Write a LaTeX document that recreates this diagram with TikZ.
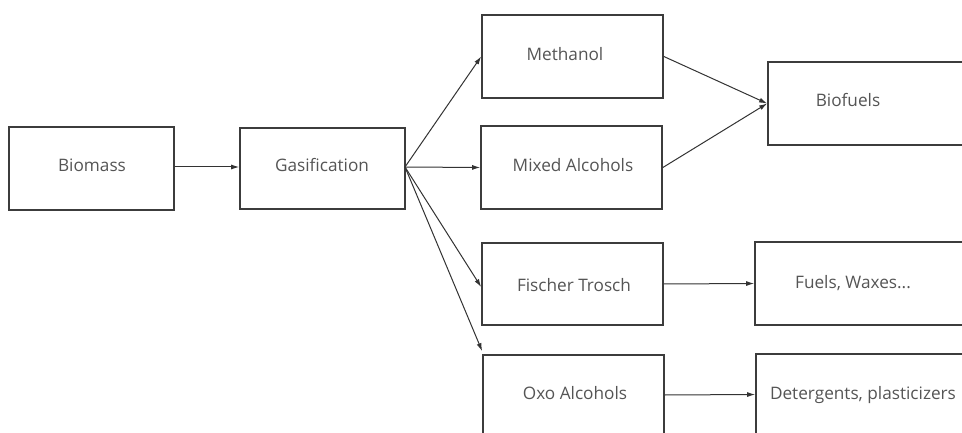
\documentclass[tikz,border=0pt]{standalone}
\usepackage{fontspec}
\setmainfont{Open Sans}
\usetikzlibrary{arrows.meta}
\definecolor{boxc}{HTML}{3C3C3C}
\definecolor{arrc}{HTML}{333333}
\definecolor{txtc}{HTML}{555555}
\tikzset{
  box/.style={draw=boxc, line width=1.7pt, fill=none, rectangle, inner sep=0pt},
  txt/.style={text=txtc, font=\fontsize{17.2}{20}\selectfont, inner sep=0pt},
  arr/.style={draw=arrc, line width=1pt, -{Latex[length=8pt,width=5pt]}},
}
\begin{document}
\begin{tikzpicture}[x=1pt,y=-1pt]
\path[use as bounding box, clip] (0,0) rectangle (962,433);
\fill[white] (0,0) rectangle (962,433);
% boxes
\node[box, minimum width=165pt, minimum height=83pt] (bio) at (91.5,168.5) {};
\node[box, minimum width=165pt, minimum height=81pt] (gas) at (322.5,168.5) {};
\node[box, minimum width=181pt, minimum height=83pt] (meth) at (572.5,56.5) {};
\node[box, minimum width=181pt, minimum height=83pt] (mix) at (571.5,167.5) {};
\node[box, minimum width=200pt, minimum height=83pt] (biof) at (868,103.5) {};
\node[box, minimum width=181pt, minimum height=82pt] (fis) at (572.5,284) {};
\node[box, minimum width=215pt, minimum height=83pt] (fuel) at (862.5,283.5) {};
\node[box, minimum width=181pt, minimum height=90pt] (oxo) at (573.5,400) {};
\node[box, minimum width=214pt, minimum height=91pt] (det) at (863,399.5) {};
% texts
\node[txt] (tbio) at (92,165) {Biomass};
\node[txt] (tgas) at (322,165) {Gasification};
\node[txt] (tmeth) at (565,54) {Methanol};
\node[txt] (tmix) at (573,165) {Mixed Alcohols};
\node[txt] (tbiof) at (848,100) {Biofuels};
\node[txt] (tfis) at (574,285) {Fischer Trosch};
\node[txt] (tfuel) at (853,283) {Fuels, Waxes...};
\node[txt] (toxo) at (575,393) {Oxo Alcohols};
\node[txt] (tdet) at (863,395) {Detergents, plasticizers};
% connectors
\coordinate (go) at (405,167);
\draw[arr] (bio.east |- go) -- (gas.west |- go);
\draw[arr] (go) -- (meth.west);
\draw[arr] (go) -- (mix.west);
\draw[arr] (go) -- ([yshift=-3pt]fis.west);
\draw[arr] (go) -- ([yshift=3pt]oxo.north west);
\draw[arr] (meth.east) -- (biof.west);
\draw[arr] (mix.east) -- (biof.west);
\draw[arr] (fis.east) -- (fuel.west);
\draw[arr] ([yshift=5pt]oxo.east) -- ([yshift=5pt]det.west);
\end{tikzpicture}
\end{document}
